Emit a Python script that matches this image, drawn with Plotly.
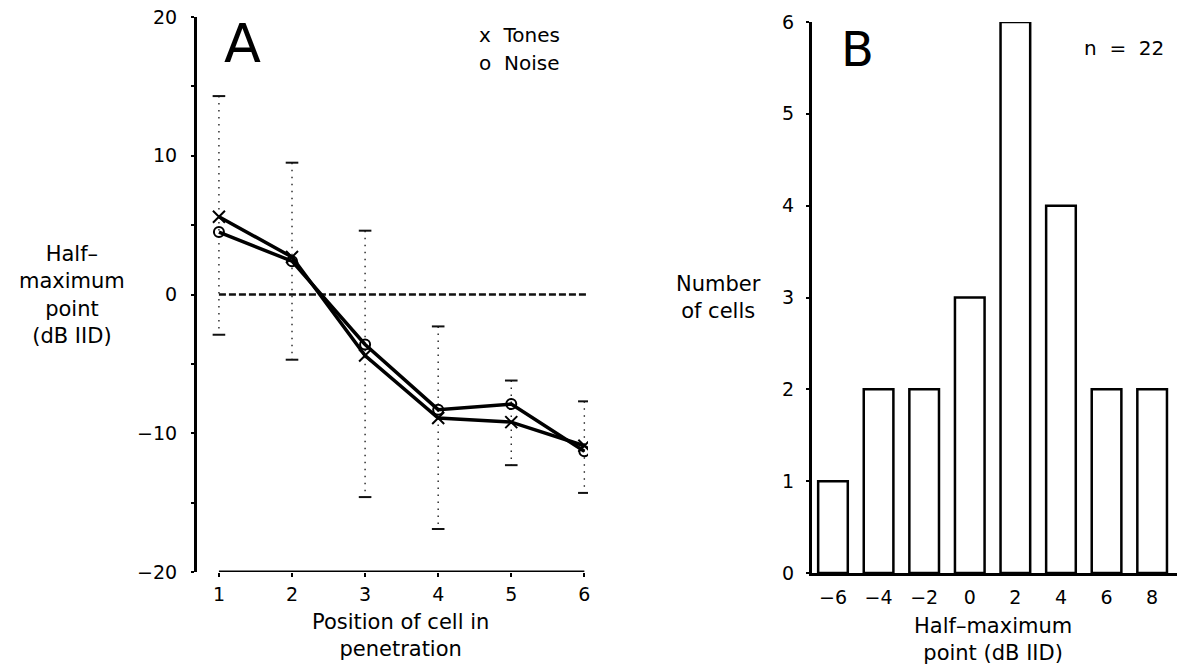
import plotly.graph_objects as go

W, H = 1177, 666
FONT = "DejaVu Sans"

# Panel A: half-maximum point by position of cell in the penetration
positions = [1, 2, 3, 4, 5, 6]
tones = [5.6, 2.7, -4.4, -8.9, -9.2, -10.9]
noise = [4.5, 2.4, -3.6, -8.3, -7.9, -11.3]
err_top = [14.3, 9.5, 4.6, -2.3, -6.2, -7.7]
err_bottom = [-2.9, -4.7, -14.6, -16.9, -12.3, -14.3]

# Panel B: histogram of half-maximum points
bins = [-6, -4, -2, 0, 2, 4, 6, 8]
counts = [1, 2, 2, 3, 6, 4, 2, 2]
n_cells = 22

ya_ticks = [-20, -15, -10, -5, 0, 5, 10, 15, 20]
ya_text = ["\u221220", "", "\u221210", "", "0", "", "10", "", "20"]


def px(x):
    return x / W


def py(y):
    return 1 - y / H


fig = go.Figure()

# dotted error bars
ex, ey = [], []
for p, t, b in zip(positions, err_top, err_bottom):
    ex += [p, p, None]
    ey += [t, b, None]
fig.add_trace(go.Scatter(x=ex, y=ey, mode="lines", xaxis="x", yaxis="y",
                         line=dict(color="#222", width=1.4, dash="1.5px,5.5px"),
                         showlegend=False, hoverinfo="skip"))
fig.add_trace(go.Scatter(x=positions + positions, y=err_top + err_bottom,
                         mode="markers", xaxis="x", yaxis="y",
                         marker=dict(symbol="line-ew", size=9,
                                     line=dict(color="#111", width=2)),
                         showlegend=False, hoverinfo="skip"))

# zero reference line
fig.add_trace(go.Scatter(x=[positions[0], 6.05], y=[0, 0], mode="lines",
                         xaxis="x", yaxis="y",
                         line=dict(color="#111", width=2.5, dash="7px,3px"),
                         showlegend=False, hoverinfo="skip"))

# x-axis baseline of panel A (spans positions 1..6 only)
fig.add_trace(go.Scatter(x=[positions[0], positions[-1]], y=[-20, -20],
                         mode="lines", xaxis="x", yaxis="y",
                         line=dict(color="#000", width=3),
                         showlegend=False, hoverinfo="skip"))

fig.add_trace(go.Scatter(x=positions, y=noise, mode="lines+markers",
                         xaxis="x", yaxis="y", name="Noise",
                         line=dict(color="#000", width=3.5),
                         marker=dict(symbol="circle-open", size=10, color="#000",
                                     line=dict(width=2)),
                         showlegend=False))
fig.add_trace(go.Scatter(x=positions, y=tones, mode="lines+markers",
                         xaxis="x", yaxis="y", name="Tones",
                         line=dict(color="#000", width=3.5),
                         marker=dict(symbol="x-thin-open", size=12, color="#000",
                                     line=dict(width=2, color="#000")),
                         showlegend=False))

# histogram bars
fig.add_trace(go.Bar(x=bins, y=counts, width=1.3, xaxis="x2", yaxis="y2",
                     marker=dict(color="white", line=dict(color="#000", width=2.5)),
                     showlegend=False))

tickfont = dict(family=FONT, size=19, color="#000")

fig.update_layout(
    width=W, height=H,
    margin=dict(l=0, r=0, t=0, b=0, autoexpand=False),
    paper_bgcolor="white", plot_bgcolor="white",
    font=dict(family=FONT, color="#000"),
    xaxis=dict(domain=[px(197), px(588)], range=[0.7, 6.05],
               tickvals=positions, ticks="outside", ticklen=4, tickwidth=2,
               tickcolor="#000", showline=False, showgrid=False, zeroline=False,
               tickfont=tickfont, ticklabelstandoff=1, anchor="y"),
    yaxis=dict(domain=[py(572), py(17)], range=[-20, 20],
               tickvals=ya_ticks, ticktext=ya_text, ticks="outside", ticklen=3,
               tickwidth=2, tickcolor="#000", showline=True, linewidth=3,
               linecolor="#000", showgrid=False, zeroline=False,
               tickfont=tickfont, ticklabelstandoff=10, anchor="x"),
    xaxis2=dict(domain=[px(812), px(1177)], range=[-6.92, 9.09],
                tickvals=bins, ticks="", showline=True, linewidth=3,
                linecolor="#000", showgrid=False, zeroline=False,
                tickfont=tickfont, ticklabelstandoff=5, anchor="y2"),
    yaxis2=dict(domain=[py(573), py(22)], range=[0, 6.0],
                tickvals=[0, 1, 2, 3, 4, 5, 6], ticks="outside", ticklen=3,
                tickwidth=2, tickcolor="#000", showline=True, linewidth=3,
                linecolor="#000", showgrid=False, zeroline=False,
                tickfont=tickfont, ticklabelstandoff=8, anchor="x2"),
)


def note(text, x, y, size, xanchor="center", align="center"):
    fig.add_annotation(text=text, x=px(x), y=py(y), xref="paper", yref="paper",
                       xanchor=xanchor, yanchor="middle", align=align,
                       showarrow=False,
                       font=dict(family=FONT, size=size, color="#000"))


note("A", 242, 43, 54)
note("B", 857, 49, 48)
note("x  Tones", 477, 35, 20, xanchor="left", align="left")
note("o  Noise", 477, 63, 20, xanchor="left", align="left")
note(f"n  =  {n_cells}", 1082, 48, 20, xanchor="left", align="left")
note("Half\u2013<br>maximum<br>point<br>(dB IID)", 72, 295, 21)
note("Position of cell in<br>penetration", 400, 635, 21)
note("Number<br>of cells", 718, 297, 21)
note("Half\u2013maximum<br>point (dB IID)", 993, 639, 21)

fig.write_html("out.html")
